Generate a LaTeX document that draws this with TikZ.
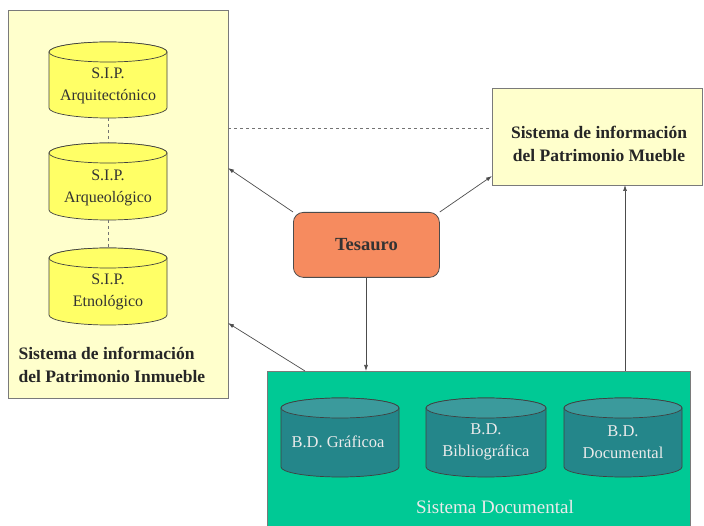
\documentclass[tikz,border=0pt]{standalone}
\usepackage{fontspec}
\setmainfont{Liberation Serif}
\usetikzlibrary{arrows.meta}
\definecolor{paleyel}{HTML}{FFFFCC}
\definecolor{cylyel}{HTML}{FFFF66}
\definecolor{tesorange}{HTML}{F68B5F}
\definecolor{docgreen}{HTML}{00C995}
\definecolor{cylteal}{HTML}{24868A}
\definecolor{cyltealtop}{HTML}{3B9A9C}
\definecolor{bordergray}{HTML}{7A7A7A}
\newcommand\dbcyl[7]{% cx, top, bottom, halfwidth, ry, body colour, top colour
  \filldraw[fill=#6,draw=black!75,line width=0.7pt]
    (#1-#4,-#2-#5) -- (#1-#4,-#3+#5)
    arc[start angle=180,end angle=360,x radius=#4pt,y radius=#5pt]
    -- (#1+#4,-#2-#5)
    arc[start angle=0,end angle=180,x radius=#4pt,y radius=#5pt] -- cycle;
  \filldraw[fill=#7,draw=black!75,line width=0.7pt] (#1,-#2-#5) ellipse[x radius=#4pt,y radius=#5pt];
}
\begin{document}
\begin{tikzpicture}[x=1pt,y=1pt,
  box/.style={draw=bordergray,line width=0.8pt,inner sep=0pt},
  conn/.style={draw=black!70,line width=0.7pt,-{Latex[length=6pt,width=4pt]}},
  dashconn/.style={draw=black!55,line width=0.7pt,dashed},
  lbl/.style={font=\fontsize{17.5}{22.5}\selectfont\bfseries,align=center,text=black!85},
  cyltxt/.style={font=\fontsize{16}{22}\selectfont,align=center,text=black!80},
  doctxt/.style={font=\fontsize{16.5}{21.5}\selectfont,align=center,text=white!92!black}]
\useasboundingbox (0,0) rectangle (704,-526);
% left box
\node[box,fill=paleyel,minimum width=220pt,minimum height=388pt,anchor=north west] (inm) at (8,-10) {};
\dbcyl{108}{42}{118}{59}{10}{cylyel}{cylyel}
\dbcyl{108}{143}{220}{59}{10}{cylyel}{cylyel}
\dbcyl{108}{248}{325}{59}{10}{cylyel}{cylyel}
\node[cyltxt] (c1) at (108,-86) {S.I.P.\\Arquitectónico};
\node[cyltxt] (c2) at (108,-188) {S.I.P.\\Arqueológico};
\node[cyltxt] (c3) at (108,-292) {S.I.P.\\Etnológico};
\coordinate (c1b) at (108,-118);
\coordinate (c2t) at (108,-143);
\coordinate (c2b) at (108,-220);
\coordinate (c3t) at (108,-248);
\draw[dashconn] (c1b) -- (c2t);
\draw[dashconn] (c2b) -- (c3t);
\node[lbl,align=left,anchor=west] (inmlbl) at (15,-365) {Sistema de información\\del Patrimonio Inmueble};
% right box
\node[box,fill=paleyel,minimum width=210pt,minimum height=97pt,anchor=north west] (mue) at (492,-88) {};
\node[lbl] (muelbl) at (599,-144) {Sistema de información\\del Patrimonio Mueble};
% tesauro
\node[draw=black!70,line width=0.8pt,fill=tesorange,rounded corners=10pt,minimum width=146pt,minimum height=65pt,anchor=north west,font=\fontsize{18.5}{20}\selectfont\bfseries,text=black!80] (tes) at (293,-212) {Tesauro};
% documental
\node[box,fill=docgreen,minimum width=423pt,minimum height=160pt,anchor=north west] (doc) at (267,-371) {};
\dbcyl{340}{398}{477}{59}{10}{cylteal}{cyltealtop}
\dbcyl{486}{398}{477}{60}{10}{cylteal}{cyltealtop}
\dbcyl{623}{398}{477}{59}{10}{cylteal}{cyltealtop}
\node[doctxt] (d1) at (338,-442) {B.D. Gráficoa};
\node[doctxt] (d2) at (486,-442) {B.D.\\Bibliográfica};
\node[doctxt] (d3) at (623,-442) {B.D.\\Documental};
\node[doctxt,font=\fontsize{19}{22}\selectfont] (doclbl) at (495,-507) {Sistema Documental};
% connectors
\coordinate (inmA) at (228,-168);
\coordinate (inmB) at (228,-323);
\coordinate (mueA) at (492,-176);
\coordinate (mueB) at (625,-185);
\coordinate (docA) at (305,-371);
\coordinate (docB) at (366,-371);
\coordinate (docC) at (625,-371);
\coordinate (dashL) at (228,-128);
\coordinate (dashR) at (492,-128);
\draw[dashconn] (dashL) -- (dashR);
\draw[conn] (tes.north west) -- (inmA);
\draw[conn] (tes.north east) -- (mueA);
\draw[conn] (tes.south -| docB) -- (docB);
\draw[conn] (docA) -- (inmB);
\draw[conn] (docC) -- (mueB);
\end{tikzpicture}
\end{document}
